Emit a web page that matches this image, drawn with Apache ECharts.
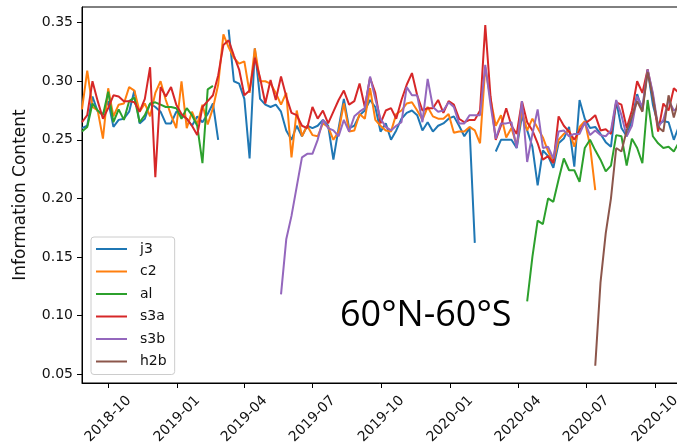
<!DOCTYPE html>
<html><head><meta charset="utf-8">
<script src="https://cdn.jsdelivr.net/npm/echarts@6/dist/echarts.min.js"></script>
<style>html,body{margin:0;padding:0;background:#fff}#c{width:677px;height:447px}</style>
</head><body><div id="c"></div>
<script>
// weekly samples starting 2018-08-27
const startDate = [2018, 8, 27];
const gap = n => new Array(n).fill(null);

const seriesNames = ['j3', 'c2', 'al', 's3a', 's3b', 'h2b'];
const xTickLabels = ['2018-10', '2019-01', '2019-04', '2019-07', '2019-10', '2020-01', '2020-04', '2020-07', '2020-10'];
const yTickLabels = ['0.05', '0.10', '0.15', '0.20', '0.25', '0.30', '0.35'];
const annotation = '60°N-60°S';

const j3 = [0.260,0.262,0.287,0.274,0.272,0.283,0.261,0.267,0.268,0.274,
  0.292,0.264,0.268,0.281,0.278,0.274,0.264,0.264,0.274,0.271,
  0.268,0.262,0.270,0.265,0.272,0.281,0.250,null,0.344,0.300,
  0.298,0.285,0.234,0.328,0.285,0.280,0.278,0.280,0.274,0.258,
  0.250,0.262,0.253,0.262,0.260,0.262,0.267,0.262,0.233,0.260,
  0.285,0.260,0.262,0.271,0.275,0.284,0.278,0.257,0.264,0.250,
  0.258,0.268,0.273,0.275,0.271,0.258,0.265,0.257,0.262,0.264,
  0.268,0.270,0.262,0.253,0.260,0.162,null,null,null,0.240,
  0.250,0.250,0.250,0.243,0.270,0.258,0.244,0.211,0.241,0.236,
  0.226,0.247,0.251,0.261,0.227,0.284,0.268,0.260,0.261,0.255,
  0.248,0.244,0.283,0.260,0.253,0.267,0.289,0.275,0.310,0.280,
  0.263,0.266,0.265,0.250,0.262];

const c2 = [0.276,0.309,0.278,0.275,0.251,0.294,0.270,0.280,0.281,0.295,
  0.292,0.274,0.281,0.270,0.290,0.300,0.284,0.271,0.260,0.300,
  0.260,0.274,0.263,0.280,0.263,0.277,0.297,0.340,0.329,0.320,
  0.315,0.317,0.290,0.328,0.300,0.300,0.298,0.290,0.280,0.290,
  0.235,0.275,0.253,0.262,0.254,0.253,0.264,0.261,0.250,0.257,
  0.281,0.257,0.258,0.272,0.268,0.294,0.267,0.262,0.258,0.257,
  0.272,0.275,0.281,0.282,0.275,0.267,0.278,0.270,0.268,0.268,
  0.272,0.256,0.257,0.257,0.261,0.258,0.247,0.312,0.285,0.262,
  0.271,0.252,0.260,0.245,0.275,0.258,0.268,0.260,0.252,0.240,
  0.231,0.250,0.255,0.258,0.244,0.261,0.266,0.245,0.207, ...gap(16)];

const al = [0.257,0.261,0.281,0.275,0.271,0.291,0.265,0.276,0.267,0.283,
  0.286,0.265,0.271,0.281,0.282,0.280,0.278,0.278,0.277,0.268,
  0.277,0.271,0.262,0.230,0.293,0.296, ...gap(59),
  0.112,0.150,0.181,0.178,0.200,0.197,0.216,0.234,0.224,0.224,
  0.214,0.243,0.250,0.241,0.233,0.223,0.228,0.254,0.253,0.228,
  0.251,0.243,0.230,0.284,0.253,0.247,0.243,0.244,0.240,0.248];

const s3a = [0.265,0.271,0.300,0.283,0.268,0.277,0.288,0.287,0.283,0.283,
  0.282,0.274,0.285,0.312,0.218,0.295,0.287,0.295,0.280,0.272,
  0.268,0.262,0.254,0.278,0.283,0.288,0.305,0.331,0.335,0.322,
  0.310,0.288,0.292,0.320,0.303,0.281,0.301,0.284,0.304,0.287,
  0.273,0.271,0.262,0.260,0.278,0.268,0.275,0.264,0.274,0.284,
  0.292,0.280,0.283,0.298,0.278,0.303,0.290,0.264,0.275,0.277,
  0.268,0.284,0.297,0.307,0.288,0.275,0.277,0.277,0.284,0.273,
  0.283,0.280,0.268,0.265,0.267,0.267,0.275,0.348,0.287,0.250,
  0.262,0.277,0.262,0.255,0.283,0.265,0.258,0.247,0.233,0.236,
  0.230,0.270,0.262,0.257,0.250,0.258,0.264,0.267,0.271,0.258,
  0.259,0.255,0.282,0.280,0.260,0.275,0.300,0.290,0.310,0.288,
  0.257,0.281,0.275,0.294,0.290];

const s3b = [...gap(38),
  0.118,0.165,0.185,0.210,0.235,0.238,0.238,0.250,0.267,0.260,
  0.258,0.253,0.267,0.257,0.270,0.274,0.277,0.304,0.285,0.268,
  0.261,0.258,0.262,0.265,0.295,0.288,0.288,0.265,0.302,0.278,
  0.274,0.275,0.282,0.278,0.264,0.264,0.271,0.271,0.271,0.314,
  0.280,0.251,0.264,0.264,0.265,0.243,0.283,0.231,0.255,0.276,
  0.243,0.244,0.234,0.257,0.258,0.253,0.255,0.255,0.265,0.254,
  0.258,0.254,0.253,0.258,0.284,0.271,0.253,0.262,0.287,0.278,
  0.310,0.290,0.261,0.267,0.284,0.275,0.278];

const h2b = [...gap(98),
  0.057,0.128,0.170,0.200,0.243,0.240,0.258,0.270,0.283,0.274,
  0.308,0.286,0.261,0.257,0.288,0.269,0.285];

const colors = ['#1f77b4', '#ff7f0e', '#2ca02c', '#d62728', '#9467bd', '#8c564b'];
const allValues = [j3, c2, al, s3a, s3b, h2b];

const dates = j3.map((_, i) => new Date(startDate[0], startDate[1] - 1, startDate[2] + 7 * i).getTime());
const xTickVals = xTickLabels.map(s => { const [y, m] = s.split('-').map(Number); return new Date(y, m - 1, 1).getTime(); });
const yTickVals = yTickLabels.map(Number);
const xMin = new Date(2018, 7, 27).getTime();
const xMax = new Date(2020, 10, 30).getTime();

const font = '"DejaVu Sans", sans-serif';
const chart = echarts.init(document.getElementById('c'), null, { renderer: 'canvas' });
chart.setOption({
  animation: false,
  backgroundColor: '#fff',
  grid: {
    left: 82, top: 7, right: -23, bottom: 64,
    show: true, borderColor: '#000', borderWidth: 1, backgroundColor: 'transparent',
    containLabel: false, outerBoundsMode: 'none'
  },
  xAxis: {
    type: 'value', min: xMin, max: xMax, scale: true,
    axisLine: { show: true, lineStyle: { color: '#000', width: 1 } },
    axisTick: { show: true, inside: false, length: 5, lineStyle: { color: '#000', width: 1 }, customValues: xTickVals },
    axisLabel: {
      customValues: xTickVals, rotate: 45, align: 'center', verticalAlign: 'middle', margin: 36,
      fontSize: 14, color: '#111', fontFamily: font,
      formatter: v => { const d = new Date(v); return d.getFullYear() + '-' + String(d.getMonth() + 1).padStart(2, '0'); }
    },
    splitLine: { show: false }, minorTick: { show: false }
  },
  yAxis: {
    type: 'value', min: 0.0423, max: 0.3634,
    name: 'Information Content', nameLocation: 'middle', nameGap: 53,
    nameTextStyle: { fontSize: 17, color: '#111', fontFamily: font },
    axisLine: { show: true, lineStyle: { color: '#000', width: 1 } },
    axisTick: { show: true, inside: false, length: 5, lineStyle: { color: '#000', width: 1 }, customValues: yTickVals },
    axisLabel: { customValues: yTickVals, margin: 9, fontSize: 14, color: '#111', fontFamily: font, formatter: v => Number(v).toFixed(2) },
    splitLine: { show: false }
  },
  legend: {
    orient: 'vertical', left: 91, top: 237,
    icon: 'rect', itemWidth: 31, itemHeight: 2, itemGap: 6.5,
    padding: [4, 8, 5, 5],
    backgroundColor: 'rgba(255,255,255,0.8)', borderColor: '#cccccc', borderWidth: 1, borderRadius: 3,
    textStyle: { fontSize: 14, color: '#111', fontFamily: font, lineHeight: 16, padding: [0, 0, 0, 8] },
    data: seriesNames
  },
  graphic: [{
    type: 'text', x: 340, y: 316, z: 100,
    style: { text: annotation, font: '36px "Open Sans"', fill: '#000', align: 'left', verticalAlign: 'middle' }
  }],
  series: seriesNames.map((name, si) => ({
    name, type: 'line', showSymbol: false, symbol: 'none', connectNulls: false,
    data: dates.map((d, i) => [d, allValues[si][i]]),
    lineStyle: { width: 2, color: colors[si] }, itemStyle: { color: colors[si] },
    emphasis: { disabled: true }, z: 2 + si
  }))
});
</script></body></html>
